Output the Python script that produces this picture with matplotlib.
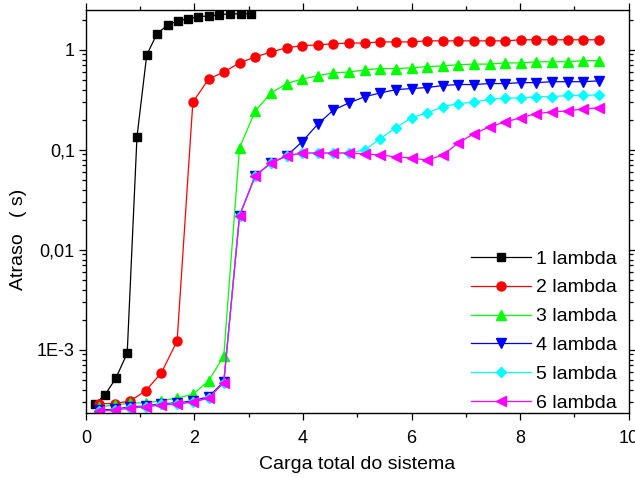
import numpy as np
import matplotlib.pyplot as plt
from matplotlib.ticker import FixedLocator, LogLocator, MultipleLocator, NullFormatter

plt.rcParams['font.family'] = ['Liberation Sans', 'DejaVu Sans']

# load values (x) for each curve
carga_1 = [0.17, 0.35, 0.55, 0.76, 0.94, 1.12, 1.31, 1.51, 1.70, 1.88, 2.07, 2.27, 2.45, 2.65, 2.86, 3.04]
carga = [0.24, 0.53, 0.82, 1.10, 1.39, 1.68, 1.97, 2.26, 2.54, 2.83, 3.12, 3.41, 3.70,
         3.98, 4.27, 4.56, 4.85, 5.14, 5.42, 5.71, 6.00, 6.29, 6.58, 6.86, 7.15, 7.44,
         7.73, 8.02, 8.30, 8.59, 8.88, 9.17, 9.46]

# delay (s)
atraso_1 = [2.9e-4, 3.55e-4, 5.2e-4, 9.3e-4, 0.135, 0.89, 1.45, 1.78, 1.95, 2.04,
            2.14, 2.19, 2.24, 2.29, 2.29, 2.29]
atraso_2 = [2.9e-4, 2.9e-4, 3.1e-4, 3.9e-4, 5.9e-4, 1.23e-3, 0.30, 0.51, 0.60, 0.74,
            0.85, 0.95, 1.05, 1.10, 1.12, 1.15, 1.17, 1.17, 1.20, 1.20, 1.20, 1.23,
            1.23, 1.23, 1.23, 1.23, 1.23, 1.26, 1.26, 1.26, 1.26, 1.26, 1.26]
atraso_3 = [2.7e-4, 2.8e-4, 2.95e-4, 2.95e-4, 3.1e-4, 3.3e-4, 3.6e-4, 4.9e-4, 8.7e-4,
            0.105, 0.245, 0.37, 0.46, 0.51, 0.55, 0.59, 0.60, 0.63, 0.65, 0.65, 0.66,
            0.68, 0.69, 0.71, 0.72, 0.72, 0.74, 0.74, 0.76, 0.76, 0.76, 0.78, 0.78]
atraso_4 = [2.5e-4, 2.55e-4, 2.7e-4, 2.75e-4, 2.9e-4, 2.95e-4, 3.1e-4, 3.4e-4, 4.8e-4,
            0.022, 0.055, 0.074, 0.087, 0.12, 0.18, 0.25, 0.295, 0.34, 0.37, 0.40,
            0.41, 0.42, 0.44, 0.45, 0.45, 0.46, 0.46, 0.47, 0.47, 0.48, 0.48, 0.48, 0.49]
atraso_5 = [2.45e-4, 2.5e-4, 2.65e-4, 2.7e-4, 2.85e-4, 2.9e-4, 3.0e-4, 3.3e-4, 4.7e-4,
            0.022, 0.055, 0.074, 0.087, 0.093, 0.093, 0.093, 0.093, 0.10, 0.129, 0.166,
            0.21, 0.234, 0.27, 0.29, 0.30, 0.32, 0.33, 0.33, 0.34, 0.34, 0.35, 0.35, 0.355]
atraso_6 = [2.45e-4, 2.5e-4, 2.63e-4, 2.69e-4, 2.82e-4, 2.88e-4, 3.0e-4, 3.3e-4, 4.7e-4,
            0.022, 0.055, 0.074, 0.087, 0.093, 0.093, 0.093, 0.093, 0.091, 0.089, 0.085,
            0.083, 0.079, 0.089, 0.117, 0.145, 0.17, 0.19, 0.21, 0.23, 0.24, 0.245,
            0.257, 0.263]

rotulos = ['1 lambda', '2 lambda', '3 lambda', '4 lambda', '5 lambda', '6 lambda']

series = [
    (carga_1, atraso_1, 'black', 's', 5.5),
    (carga, atraso_2, '#ff0000', 'o', 6.5),
    (carga, atraso_3, '#00ff00', '^', 7),
    (carga, atraso_4, '#0000ff', 'v', 7),
    (carga, atraso_5, '#00ffff', 'D', 5.5),
    (carga, atraso_6, '#ff00ff', '<', 7),
]

fig = plt.figure(figsize=(6.35, 4.78), dpi=100)
ax = fig.add_axes([0.1354, 0.136, 0.8544, 0.843])

for (x, y, cor, mk, ms), rot in zip(series, rotulos):
    ax.plot(x, y, color=cor, lw=0.9, marker=mk, ms=ms, mec=cor, mfc=cor, label=rot)

ax.set_yscale('log')
ax.set_xlim(0, 10)
ax.set_ylim(2.34e-4, 2.5)

ax.xaxis.set_major_locator(MultipleLocator(2))
ax.xaxis.set_minor_locator(MultipleLocator(1))
ax.yaxis.set_major_locator(FixedLocator([1e-3, 1e-2, 1e-1, 1]))
ax.set_yticklabels(['1E-3', '0,01', '0,1', '1'])
ax.yaxis.set_minor_locator(LogLocator(base=10, subs=np.arange(2, 10)))
ax.yaxis.set_minor_formatter(NullFormatter())

ax.tick_params(which='both', direction='out', top=True, right=True,
               labelsize=13, width=0.9)
ax.tick_params(which='major', length=5)
ax.tick_params(which='minor', length=3)
ax.tick_params(axis='x', pad=7)
ax.tick_params(axis='y', pad=3)
for s in ax.spines.values():
    s.set_linewidth(1.0)

ax.set_xlabel('Carga total do sistema', fontsize=14, labelpad=7)
ax.set_ylabel('Atraso   ( s)', fontsize=14)
ax.yaxis.set_label_coords(-0.108, 0.43)

ax.legend(loc='lower right', bbox_to_anchor=(0.981, 0.0), frameon=False,
          fontsize=14, handlelength=3.05, labelspacing=0.58, handletextpad=0.3,
          borderaxespad=0, borderpad=0.05)

fig.savefig('out.png', dpi=100)
